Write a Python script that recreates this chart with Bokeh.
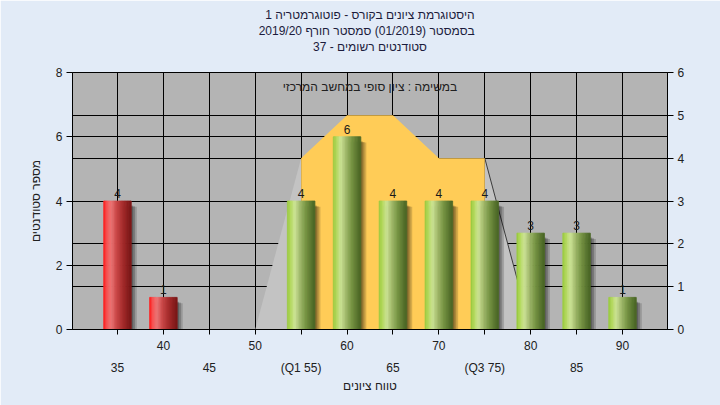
from bokeh.plotting import figure
from bokeh.models import Range1d, LinearAxis, FixedTicker, Grid, Title, Label, ColumnDataSource
from bokeh.embed import file_html
from bokeh.resources import INLINE
from bokeh.core.properties import value

# ---------------- data ----------------
title_lines = [
    "היסטוגרמת ציונים בקורס - פוטוגרמטריה 1",
    "בסמסטר  (01/2019)  סמסטר חורף 2019/20",
    "סטודנטים רשומים - 37",
]
subtitle = "במשימה : ציון סופי במחשב המרכזי"
x_title = "טווח ציונים"
y_title = "מספר סטודנטים"

scores = [35, 40, 45, 50, 55, 60, 65, 70, 75, 80, 85, 90]
counts = [4, 1, 0, 0, 4, 6, 4, 4, 4, 3, 3, 1]
fail_below = 50

row1_ticks = [40, 50, 60, 70, 80, 90]
row2_ticks = [35, 45, 55, 65, 75, 85]
row2_labels = ["35", "45", "(Q1 55)", "65", "(Q3 75)", "85"]
left_ticks = [0, 2, 4, 6, 8]
right_ticks = [0, 1, 2, 3, 4, 5, 6]

# quartile box (right-axis units)
box_x = [55, 60, 65, 70, 75]
box_y = [4, 5, 5, 4, 4]
low_tail_x = [50, 55, 55]
low_tail_y = [0, 4, 0]
high_tail_x = [75, 75, 80]
high_tail_y = [0, 4, 0]

# ---------------- styling ----------------
FONT = "Liberation Sans"
BAR_W = 3.0
N_STRIPS = 18
X_MIN, X_MAX = 30.1, 94.9
green_stops = [(0.0, (150, 200, 60)), (0.12, (178, 216, 90)), (0.28, (206, 229, 152)),
               (0.45, (166, 190, 112)), (0.7, (116, 146, 66)), (1.0, (72, 100, 36))]
red_stops = [(0.0, (255, 22, 22)), (0.12, (248, 80, 80)), (0.28, (238, 120, 120)),
             (0.45, (208, 76, 76)), (0.7, (166, 44, 44)), (1.0, (122, 22, 22))]
RLE, PDF = "\u202b", "\u202c"


def grad(stops, t):
    for (t0, c0), (t1, c1) in zip(stops[:-1], stops[1:]):
        if t <= t1:
            f = (t - t0) / (t1 - t0)
            c = [round(a + (b - a) * f) for a, b in zip(c0, c1)]
            return "#%02x%02x%02x" % tuple(c)
    return "#%02x%02x%02x" % stops[-1][1]


p = figure(width=720, height=405, output_backend="svg", toolbar_location=None,
           x_range=Range1d(X_MIN, X_MAX), y_range=Range1d(0, 8),
           min_border_left=72, min_border_right=53, min_border_top=72, min_border_bottom=76,
           background_fill_color="#b4b4b4", border_fill_color="#e2ebf7",
           outline_line_color="black")
p.extra_y_ranges = {"right": Range1d(0, 6)}
x_mid = (X_MIN + X_MAX) / 2

# spacer between the frame and the title block, then the title lines (bottom-up)
p.add_layout(Title(text=" ", text_font=FONT, text_font_size="16px", standoff=0), "above")
for line in reversed(title_lines):
    p.add_layout(Title(text=RLE + line + PDF, align="center", text_font=FONT,
                       text_font_size="12px", text_font_style="normal",
                       text_color="#1c1c3c", offset=-9, standoff=0), "above")

# grids
p.xgrid.ticker = FixedTicker(ticks=scores)
p.xgrid.grid_line_color = "black"
p.ygrid.ticker = FixedTicker(ticks=left_ticks)
p.ygrid.grid_line_color = "black"
p.add_layout(Grid(dimension=1, ticker=FixedTicker(ticks=right_ticks), y_range_name="right",
                  grid_line_color="black"))

# axes
xa = p.xaxis[0]
xa.ticker = FixedTicker(ticks=scores)
xa.major_label_overrides = {s: (str(s) if s in row1_ticks else "") for s in scores}
xa.major_tick_out = 5
xa.major_tick_in = 0
xa.minor_tick_line_color = None
xa.axis_line_color = "black"
xa.major_tick_line_color = "black"
xa.major_label_standoff = 6
xa.major_label_text_font = FONT
xa.major_label_text_font_size = "12px"
xa.major_label_text_color = "#202020"

xa2 = LinearAxis(ticker=FixedTicker(ticks=row2_ticks),
                 major_label_overrides=dict(zip(row2_ticks, row2_labels)),
                 axis_line_color=None, major_tick_line_color=None, minor_tick_line_color=None,
                 major_tick_out=0, major_tick_in=0, major_label_standoff=8,
                 major_label_text_font=FONT, major_label_text_font_size="12px",
                 major_label_text_color="#202020",
                 axis_label=x_title, axis_label_text_font=FONT,
                 axis_label_text_font_size="12px", axis_label_text_font_style="normal",
                 axis_label_text_color="#202020", axis_label_standoff=1)
p.add_layout(xa2, "below")

ya = p.yaxis[0]
ya.ticker = FixedTicker(ticks=left_ticks)
ya.major_tick_out = 6
ya.major_tick_in = 0
ya.minor_tick_line_color = None
ya.major_label_standoff = 4
ya.major_label_text_font = FONT
ya.major_label_text_font_size = "12px"
ya.major_label_text_color = "#202020"
ya.axis_label = y_title
ya.axis_label_text_font = FONT
ya.axis_label_text_font_size = "12px"
ya.axis_label_text_font_style = "normal"
ya.axis_label_text_color = "#202020"
ya.axis_label_standoff = 10

yr = LinearAxis(y_range_name="right", ticker=FixedTicker(ticks=right_ticks),
                major_tick_out=6, major_tick_in=0, minor_tick_line_color=None,
                major_label_standoff=4,
                major_label_text_font=FONT, major_label_text_font_size="12px",
                major_label_text_color="#202020")
p.add_layout(yr, "right")

# quartile shapes
p.patch(low_tail_x, low_tail_y, y_range_name="right", fill_color="#c3c3c3", line_color=None)
p.patch(high_tail_x, high_tail_y, y_range_name="right", fill_color="#c3c3c3", line_color=None)
p.line(high_tail_x[1:], high_tail_y[1:], y_range_name="right", line_color="#3c3c3c", line_width=1)
p.patch(box_x + [box_x[-1], box_x[0]], box_y + [0, 0], y_range_name="right",
        fill_color="#ffcc57", line_color=None)

# bars
bx = [s for s, c in zip(scores, counts) if c > 0]
bc = [c for c in counts if c > 0]

for k, (dx, a) in enumerate([(0.2, 0.22), (0.4, 0.2), (0.6, 0.16)]):
    p.vbar(x=[x + dx for x in bx], top=[c - 0.14 - 0.02 * k for c in bc], bottom=0,
           width=BAR_W, fill_color="black", fill_alpha=a, line_color=None)

sx, st, sc = [], [], []
for x, c in zip(bx, bc):
    stops = red_stops if x < fail_below else green_stops
    for i in range(N_STRIPS):
        t = (i + 0.5) / N_STRIPS
        sx.append(x - BAR_W / 2 + t * BAR_W)
        st.append(c)
        sc.append(grad(stops, t))
src = ColumnDataSource(dict(x=sx, top=st, color=sc))
p.vbar(x="x", top="top", bottom=0, width=BAR_W / N_STRIPS, source=src,
       fill_color="color", line_color="color", line_width=0.8)

lab = ColumnDataSource(dict(x=bx, y=bc, t=[str(c) for c in bc]))
p.text(x="x", y="y", text="t", source=lab, text_font=value(FONT), text_font_size="12px",
       text_align="center", text_baseline="bottom", y_offset=-3, text_color="#1a1a1a")

p.add_layout(Label(x=x_mid, y=8, y_offset=-14, text=RLE + subtitle + PDF, text_font=FONT,
                   text_font_size="12px", text_align="center", text_baseline="middle",
                   text_color="#202020"))

open("out.html", "w").write(file_html(p, INLINE))
